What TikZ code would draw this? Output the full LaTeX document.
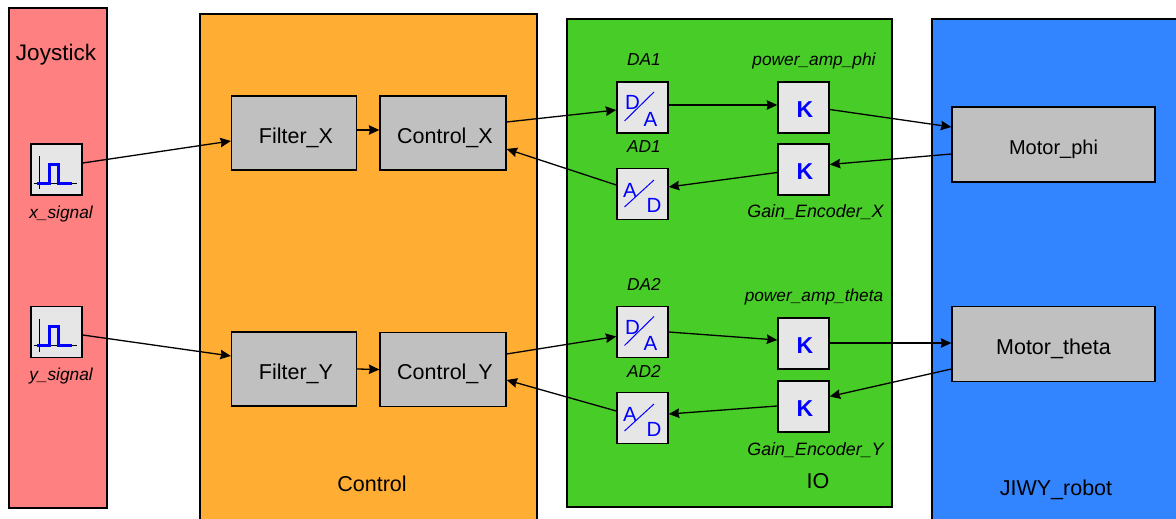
\documentclass[tikz,border=0pt]{standalone}
\usepackage{fontspec}
\setmainfont{Liberation Sans}
\usetikzlibrary{arrows.meta}

\definecolor{joycol}{RGB}{255,128,128}
\definecolor{ctrlcol}{RGB}{255,173,51}
\definecolor{iocol}{RGB}{72,204,40}
\definecolor{robotcol}{RGB}{51,133,255}
\definecolor{blockcol}{RGB}{192,192,192}
\definecolor{iconcol}{RGB}{230,230,230}
\definecolor{markcol}{RGB}{0,0,255}

\begin{document}
\begin{tikzpicture}[
  x=1pt, y=-1pt,
  >={Stealth[length=10.5pt,width=9.5pt,inset=1pt]},
  panel/.style={draw, line width=1.3pt, inner sep=0pt},
  motor/.style={draw, line width=1.3pt, fill=blockcol, inner sep=0pt, minimum width=203pt, minimum height=75pt, text height=20pt, text depth=0pt, font=\fontsize{21.5}{24}\selectfont},
  block/.style={motor, minimum width=125pt, minimum height=74pt, execute at begin node={\hspace*{4pt}}},
  icon/.style={draw, line width=1.5pt, fill=iconcol, inner sep=0pt, minimum size=51pt},
  gain/.style={icon, text=markcol, text height=20.5pt, text depth=0pt, execute at begin node={\hspace*{3pt}}, font=\fontsize{23}{26}\selectfont\bfseries},
  conv/.style={inner sep=0pt, text=markcol, font=\fontsize{20.5}{22}\selectfont},
  namelabel/.style={inner sep=0pt, font=\fontsize{17.3}{20}\selectfont\itshape},
  gainlabel/.style={namelabel, font=\fontsize{17.9}{20}\selectfont\itshape},
  paneltitle/.style={inner sep=0pt, font=\fontsize{21.5}{24}\selectfont},
  slash/.style={draw=markcol, line width=1pt},
  link/.style={->, line width=1.3pt}
]
  \clip (0,0) rectangle (1176,519);

  \node[panel, fill=joycol, minimum width=98pt, minimum height=500pt] (joystick) at (58,258) {};
  \node[panel, fill=ctrlcol, minimum width=337pt, minimum height=516pt] (control) at (368.5,272) {};
  \node[panel, fill=iocol, minimum width=325pt, minimum height=488pt] (io) at (729.5,263) {};
  \node[panel, fill=robotcol, minimum width=264pt, minimum height=511pt] (robot) at (1064,274.5) {};
  \node[paneltitle, font=\fontsize{22.5}{24}\selectfont] (joytitle) at (56,55) {Joystick};
  \node[paneltitle] (ctrltitle) at (372,484) {Control};
  \node[paneltitle] (iotitle) at (818,481) {IO};
  \node[paneltitle] (robottitle) at (1056,490) {JIWY\_robot};

  \node[icon] (xsig) at (56.5,169.5) {};
  \node[icon] (ysig) at (56.5,332) {};
  \node[namelabel] (xsiglabel) at (61,214) {x\_signal};
  \node[namelabel] (ysiglabel) at (61,376) {y\_signal};
  \draw[line width=0.8pt] ([shift={(-17,-13.5)}]xsig.center) -- ([shift={(-17,19.5)}]xsig.center);
  \draw[line width=0.8pt] ([shift={(-23,13.5)}]xsig.center) -- ([shift={(20.5,13.5)}]xsig.center);
  \draw[markcol, line width=3pt] ([shift={(-20,13.5)}]xsig.center) -- ([shift={(-7.5,13.5)}]xsig.center) -- ([shift={(-7.5,-5.5)}]xsig.center) -- ([shift={(1.5,-5.5)}]xsig.center) -- ([shift={(1.5,13.5)}]xsig.center) -- ([shift={(15.5,13.5)}]xsig.center);
  \draw[line width=0.8pt] ([shift={(-17,-13.5)}]ysig.center) -- ([shift={(-17,19.5)}]ysig.center);
  \draw[line width=0.8pt] ([shift={(-23,13.5)}]ysig.center) -- ([shift={(20.5,13.5)}]ysig.center);
  \draw[markcol, line width=3pt] ([shift={(-20,13.5)}]ysig.center) -- ([shift={(-7.5,13.5)}]ysig.center) -- ([shift={(-7.5,-5.5)}]ysig.center) -- ([shift={(1.5,-5.5)}]ysig.center) -- ([shift={(1.5,13.5)}]ysig.center) -- ([shift={(15.5,13.5)}]ysig.center);

  \node[block] (FilterX) at (294,133) {Filter\_X};
  \node[block, minimum width=126pt] (ControlX) at (443,133) {Control\_X};
  \node[block] (FilterY) at (294,369) {Filter\_Y};
  \node[block, minimum width=126pt] (ControlY) at (443,369.5) {Control\_Y};

  \node[icon] (DA1) at (642.5,107.5) {};
  \node[icon] (AD1) at (642.5,194) {};
  \node[icon] (DA2) at (642.5,332) {};
  \node[icon] (AD2) at (642.5,418) {};
  \node[conv] (DA1a) at ([shift={(-10,-5)}]DA1.center) {D};
  \node[conv] (DA1b) at ([shift={(8,11.5)}]DA1.center) {A};
  \draw[slash] ([shift={(-18,13.5)}]DA1.center) -- ([shift={(11.5,-15.5)}]DA1.center);
  \node[conv] (AD1a) at ([shift={(-12.5,-4)}]AD1.center) {A};
  \node[conv] (AD1b) at ([shift={(11.5,11.5)}]AD1.center) {D};
  \draw[slash] ([shift={(-18,13)}]AD1.center) -- ([shift={(11.5,-14)}]AD1.center);
  \node[conv] (DA2a) at ([shift={(-10,-5)}]DA2.center) {D};
  \node[conv] (DA2b) at ([shift={(8,11.5)}]DA2.center) {A};
  \draw[slash] ([shift={(-18,13.5)}]DA2.center) -- ([shift={(11.5,-15.5)}]DA2.center);
  \node[conv] (AD2a) at ([shift={(-12.5,-4)}]AD2.center) {A};
  \node[conv] (AD2b) at ([shift={(11.5,11.5)}]AD2.center) {D};
  \draw[slash] ([shift={(-18,13)}]AD2.center) -- ([shift={(11.5,-14)}]AD2.center);
  \node[namelabel] (DA1label) at (644,60) {DA1};
  \node[namelabel] (AD1label) at (644,147) {AD1};
  \node[namelabel] (DA2label) at (644,284) {DA2};
  \node[namelabel] (AD2label) at (644,371) {AD2};

  \node[gain] (ampphi) at (803.5,107.5) {K};
  \node[gain] (gainX) at (803.5,169.5) {K};
  \node[gain] (amptheta) at (803.5,343.5) {K};
  \node[gain] (gainY) at (803.5,406.5) {K};
  \node[namelabel] (ampphilabel) at (814,61.5) {power\_amp\_phi};
  \node[gainlabel] (gainXlabel) at (815.5,212) {Gain\_Encoder\_X};
  \node[namelabel] (ampthetalabel) at (814,297.5) {power\_amp\_theta};
  \node[gainlabel] (gainYlabel) at (815.5,450) {Gain\_Encoder\_Y};

  \node[motor, font=\fontsize{20}{24}\selectfont] (Mphi) at (1053.5,144.5) {Motor\_phi};
  \node[motor] (Mtheta) at (1053.5,344) {Motor\_theta};

  \draw[link] ([yshift=6.5]xsig.east) -- ([yshift=-8]FilterX.west);
  \draw[link] ([yshift=3]FilterX.east) -- ([yshift=3]ControlX.west);
  \draw[link] ([yshift=11]ControlX.east) -- ([yshift=-2.5]DA1.west);
  \draw[link] ([yshift=2.5]DA1.east) -- ([yshift=2.5]ampphi.west);
  \draw[link] ([yshift=-2]ampphi.east) -- ([yshift=17.5]Mphi.west);
  \draw[link] ([yshift=-9.5]Mphi.west) -- ([yshift=5]gainX.east);
  \draw[link] ([yshift=-3]gainX.west) -- ([yshift=7]AD1.east);
  \draw[link] ([yshift=9]AD1.west) -- ([yshift=-16]ControlX.east);

  \draw[link] ([yshift=-3]ysig.east) -- ([yshift=13]FilterY.west);
  \draw[link] (FilterY.east) -- (ControlY.west);
  \draw[link] ([yshift=15.5]ControlY.east) -- ([yshift=-4.5]DA2.west);
  \draw[link] (DA2.east) -- ([yshift=3.5]amptheta.west);
  \draw[link] ([yshift=0.5]amptheta.east) -- ([yshift=1]Mtheta.west);
  \draw[link] ([yshift=-25]Mtheta.west) -- ([yshift=10]gainY.east);
  \draw[link] ([yshift=0.5]gainY.west) -- ([yshift=4]AD2.east);
  \draw[link] ([yshift=7]AD2.west) -- ([yshift=-10.5]ControlY.east);
\end{tikzpicture}
\end{document}
